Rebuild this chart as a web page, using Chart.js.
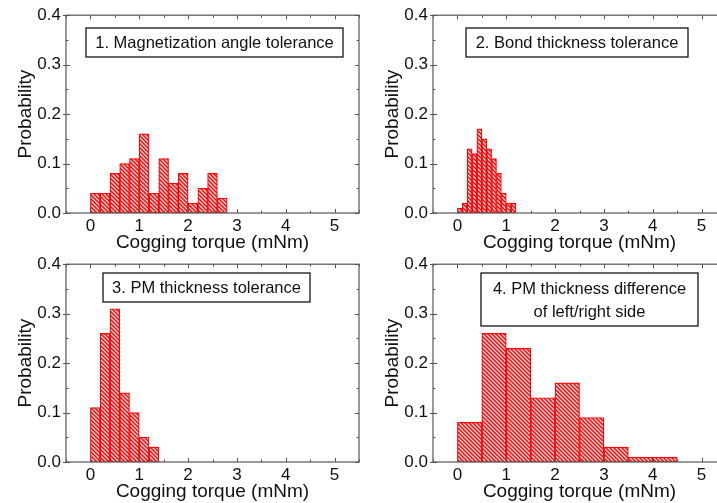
<!DOCTYPE html>
<html>
<head>
<meta charset="utf-8">
<script src="https://cdn.jsdelivr.net/npm/chart.js@4.4.1/dist/chart.umd.min.js"></script>
<style>
  html, body { margin: 0; padding: 0; background: #fff; overflow: hidden; }
  body { width: 717px; height: 503px; position: relative; }
  .panel { position: absolute; width: 370px; height: 258px; }
  #p1 { left: 0; top: 0; }
  #p2 { left: 367px; top: 0; }
  #p3 { left: 0; top: 249px; }
  #p4 { left: 367px; top: 249px; }
</style>
</head>
<body>
<div class="panel" id="p1"><canvas id="c1"></canvas></div>
<div class="panel" id="p2"><canvas id="c2"></canvas></div>
<div class="panel" id="p3"><canvas id="c3"></canvas></div>
<div class="panel" id="p4"><canvas id="c4"></canvas></div>
<script>
// histogram bin centres (mNm) and probabilities
const torque1 = [0.1, 0.3, 0.5, 0.7, 0.9, 1.1, 1.3, 1.5, 1.7, 1.9, 2.1, 2.3, 2.5, 2.7];
const prob1 = [0.04, 0.04, 0.08, 0.10, 0.11, 0.16, 0.04, 0.11, 0.06, 0.08, 0.02, 0.05, 0.08, 0.03];

const torque2 = [0.05, 0.15, 0.25, 0.35, 0.45, 0.55, 0.65, 0.75, 0.85, 0.95, 1.05, 1.15];
const prob2 = [0.01, 0.02, 0.13, 0.12, 0.17, 0.15, 0.13, 0.11, 0.08, 0.04, 0.02, 0.02];

const torque3 = [0.1, 0.3, 0.5, 0.7, 0.9, 1.1, 1.3];
const prob3 = [0.11, 0.26, 0.31, 0.14, 0.10, 0.05, 0.03];

const torque4 = [0.25, 0.75, 1.25, 1.75, 2.25, 2.75, 3.25, 3.75, 4.25];
const prob4 = [0.08, 0.26, 0.23, 0.13, 0.16, 0.09, 0.03, 0.01, 0.01];

const xTicks = [0, 1, 2, 3, 4, 5];
const yTicks = [0, 0.1, 0.2, 0.3, 0.4];

const labels = [
  ['1. Magnetization angle tolerance'],
  ['2. Bond thickness tolerance'],
  ['3. PM thickness tolerance'],
  ['4. PM thickness difference', 'of left/right side']
];

// label box geometry inside each canvas: [left, top, width, height]
const boxes = [
  [86, 28, 257, 29],
  [99, 28, 222, 29],
  [103, 24, 207, 29],
  [114, 24, 217, 53]
];

const FONT = '"Liberation Sans", Arial, sans-serif';
const INK = '#111';
const FRAME = '#555';

function hatch() {
  const c = document.createElement('canvas');
  c.width = 4; c.height = 4;
  const g = c.getContext('2d');
  g.fillStyle = '#fff';
  g.fillRect(0, 0, 4, 4);
  g.strokeStyle = '#ff1010';
  g.lineWidth = 1.6;
  g.beginPath();
  g.moveTo(-1, -1); g.lineTo(5, 5);
  g.moveTo(-1, 3); g.lineTo(1, 5);
  g.moveTo(3, -1); g.lineTo(5, 1);
  g.stroke();
  return g.createPattern(c, 'repeat');
}

const framePlugin = {
  id: 'frame',
  afterDraw(chart, args, opts) {
    const { ctx, chartArea: a, scales: { x, y } } = chart;
    ctx.save();
    ctx.strokeStyle = FRAME;
    ctx.lineWidth = 1.2;
    ctx.strokeRect(a.left, a.top, a.right - a.left, a.bottom - a.top);
    ctx.lineWidth = 1;
    ctx.beginPath();
    for (let v = -0.5; v <= 5.5; v += 0.5) {
      const px = Math.round(x.getPixelForValue(v)) + 0.5;
      const len = Number.isInteger(v) ? 4 : 2.5;
      ctx.moveTo(px, a.bottom); ctx.lineTo(px, a.bottom - len);
      ctx.moveTo(px, a.top); ctx.lineTo(px, a.top + len);
    }
    for (let v = 0; v <= 0.4001; v += 0.05) {
      const py = Math.round(y.getPixelForValue(v)) + 0.5;
      const major = Math.abs(v * 10 - Math.round(v * 10)) < 1e-6;
      const len = major ? 4 : 2.5;
      ctx.moveTo(a.left - (major ? 3 : 0), py); ctx.lineTo(a.left + len, py);
      ctx.moveTo(a.right, py); ctx.lineTo(a.right - len, py);
    }
    ctx.stroke();

    // text box
    const [bx, by, bw, bh] = opts.box;
    ctx.fillStyle = '#fff';
    ctx.fillRect(bx, by, bw, bh);
    ctx.strokeStyle = '#000';
    ctx.lineWidth = 1.2;
    ctx.strokeRect(bx, by, bw, bh);
    ctx.fillStyle = INK;
    ctx.font = '16.5px ' + FONT;
    ctx.textAlign = 'center';
    ctx.textBaseline = 'middle';
    const lines = opts.text;
    const lh = 23;
    const cy = by + bh / 2 - (lines.length - 1) * lh / 2 + 1;
    lines.forEach((t, i) => ctx.fillText(t, bx + bw / 2, cy + i * lh));
    ctx.restore();
  }
};

function makeChart(id, xs, ys, idx) {
  const ctx = document.getElementById(id).getContext('2d');
  return new Chart(ctx, {
    type: 'bar',
    data: {
      datasets: [{
        data: xs.map((v, i) => ({ x: v, y: ys[i] })),
        backgroundColor: hatch(),
        borderColor: '#ff0000',
        borderWidth: 1.2,
        borderSkipped: false,
        barPercentage: 1,
        categoryPercentage: 1
      }]
    },
    options: {
      responsive: true,
      maintainAspectRatio: false,
      animation: false,
      layout: { padding: { left: 0, right: 11, top: 15, bottom: 0 } },
      plugins: {
        legend: { display: false },
        tooltip: { enabled: false },
        frame: { box: boxes[idx], text: labels[idx] }
      },
      scales: {
        x: {
          type: 'linear',
          offset: false,
          min: -0.5,
          max: 5.5,
          grid: { display: false, drawTicks: false },
          border: { display: false },
          afterBuildTicks: s => { s.ticks = xTicks.map(v => ({ value: v })); },
          afterFit: s => { s.height = 45; },
          ticks: {
            color: INK,
            font: { family: FONT, size: 17 },
            padding: 3,
            maxRotation: 0,
            callback: v => String(v)
          },
          title: {
            display: true,
            text: 'Cogging torque (mNm)',
            color: INK,
            font: { family: FONT, size: 19 },
            padding: { top: 0, bottom: 4 }
          }
        },
        y: {
          min: 0,
          max: 0.4,
          grid: { display: false, drawTicks: false },
          border: { display: false },
          afterBuildTicks: s => { s.ticks = yTicks.map(v => ({ value: v })); },
          afterFit: s => { s.width = 66; },
          ticks: {
            color: INK,
            font: { family: FONT, size: 17 },
            padding: 5,
            callback: v => v.toFixed(1)
          },
          title: {
            display: true,
            text: 'Probability',
            color: INK,
            font: { family: FONT, size: 19 },
            padding: { top: 14, bottom: 0 }
          }
        }
      }
    },
    plugins: [framePlugin]
  });
}

makeChart('c1', torque1, prob1, 0);
makeChart('c2', torque2, prob2, 1);
makeChart('c3', torque3, prob3, 2);
makeChart('c4', torque4, prob4, 3);
</script>
</body>
</html>
